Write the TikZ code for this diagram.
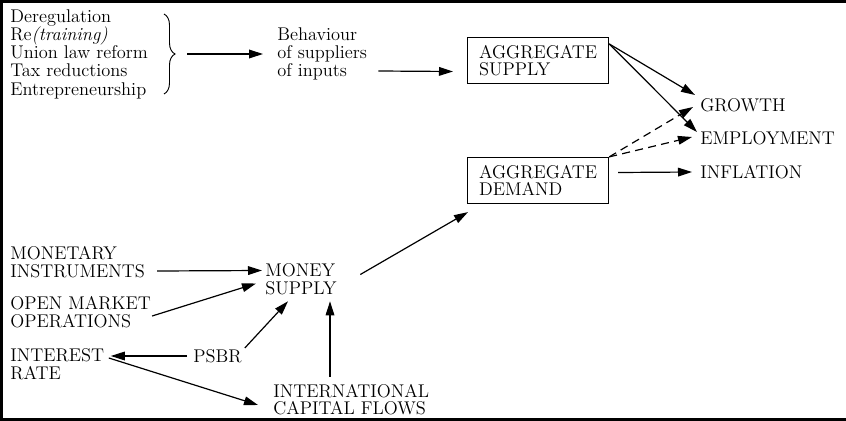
\documentclass[tikz,border=0pt]{standalone}
\usetikzlibrary{arrows.meta,calc,decorations.pathreplacing}

\begin{document}
\begin{tikzpicture}[x=0.75pt,y=0.75pt,yscale=-1,xscale=1,
  lbl/.style={anchor=west,inner sep=0pt,align=left,font=\fontsize{13.8}{13.3}\selectfont},
  aggbox/.style={lbl,draw,line width=0.9pt,minimum width=105.75pt,minimum height=34.5pt,inner xsep=7pt,inner ysep=4pt},
  arr/.style={line width=0.9pt,-{Triangle[length=10.5pt,width=6.5pt]}},
  dasharr/.style={arr,dash pattern=on 6pt off 4pt}]
\useasboundingbox (0,0) rectangle (846,421);
% frame (open on the right)
\draw [line width=2.25pt] (846,1.1) -- (1.6,1.1) -- (1.6,419.4) -- (846,419.4);

% Text Node
\draw (10,54) node (measures) [lbl,font=\fontsize{13.8}{13.7}\selectfont] {Deregulation\\Re\textit{(training)}\\Union law reform\\Tax reductions\\Entrepreneurship};
% Text Node
\draw (277,54) node (behaviour) [lbl] {Behaviour\\of suppliers\\of inputs};
% Box
\draw (467,60.5) node (supply) [aggbox] {AGGREGATE\\SUPPLY};
% Box
\draw (467,180.5) node (demand) [aggbox] {AGGREGATE\\DEMAND};
% Text Node
\draw (700,105) node (growth) [lbl] {GROWTH};
% Text Node
\draw (700,138) node (employment) [lbl] {EMPLOYMENT};
% Text Node
\draw (700,172) node (inflation) [lbl] {INFLATION};
% Text Node
\draw (10,262) node (monetary) [lbl] {MONETARY\\INSTRUMENTS};
% Text Node
\draw (10,312) node (openmarket) [lbl] {OPEN MARKET\\OPERATIONS};
% Text Node
\draw (10,364) node (interest) [lbl] {INTEREST\\RATE};
% Text Node
\draw (265,279.5) node (money) [lbl] {MONEY\\SUPPLY};
% Text Node
\draw (193,356) node (psbr) [lbl] {PSBR};
% Text Node
\draw (273,399.5) node (capital) [lbl] {INTERNATIONAL\\CAPITAL FLOWS};

% brace
\draw [decorate,decoration={brace,amplitude=8.25pt},line width=0.7pt] (164,14) -- (164,94);
\coordinate (bracetip) at (177,54);

% arrows
\draw [arr,shorten <=7.5pt,shorten >=10.5pt] (bracetip) -- (behaviour.west);
\draw [arr] ($(behaviour.east)+(11,17)$) -- ($(supply.west)+(-14,11)$);
\draw [arr] ($(supply.north east)+(0,7)$) -- ($(growth.west)+(-5,-10)$);
\draw [arr] ($(supply.north east)+(0,7)$) -- ($(employment.west)+(-3,-6)$);
\draw [dasharr] (demand.north east) -- ($(growth.west)+(-7,2)$);
\draw [dasharr] (demand.north east) -- ($(employment.west)+(-8,-1)$);
\draw [arr] ($(demand.east)+(9,-8)$) -- ($(inflation.west)+(-8,0)$);
\draw [arr] ($(money.east)+(23.5,-5)$) -- ($(demand.south west)+(1,8)$);
\draw [arr] ($(monetary.east)+(12,9)$) -- ($(money.west)+(-3,-9)$);
\draw [arr] ($(openmarket.east)+(1,4)$) -- ($(money.west)+(-9,4)$);
\draw [arr] ($(psbr.east)+(3,-8)$) -- ($(money.south west)+(23,6)$);
\draw [arr] ($(capital.north west)+(57,-7)$) -- ($(money.south west)+(65,6)$);
\draw [arr,shorten <=4.5pt] (psbr.west) -- ($(interest.east)+(6.5,-8)$);
\draw [arr] ($(interest.east)+(4.5,-6)$) -- ($(capital.west)+(-15,5.5)$);

\end{tikzpicture}
\end{document}
